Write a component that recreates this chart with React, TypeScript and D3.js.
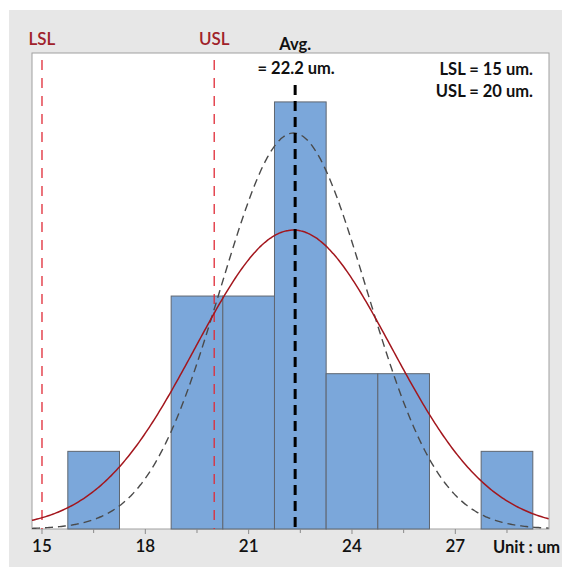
import React, { useEffect, useRef } from 'react';
import * as d3 from 'd3';

// histogram bins (um) and counts
const binEdges = [15.75, 17.25, 18.75, 20.25, 21.75, 23.25, 24.75, 26.25, 27.75, 29.25];
const counts = [1, 0, 3, 3, 5.5, 2, 2, 0, 1];

const majorTicks = [15, 18, 21, 24, 27];
const minorTicks = [16.5, 19.5, 22.5, 25.5, 28.5];

const LSL = 15;
const USL = 20;
const avgLine = 22.35;

// fitted normal curves: [mean, sigma, peak height]
const overallFit = [22.3, 2.85, 3.85];
const withinFit = [22.3, 2.12, 5.1];

const W = 562;
const H = 567;
const plot = { left: 32, right: 549, top: 53, bottom: 529 };

const font = 'Lato, "Open Sans", sans-serif';

const App = () => {
  const svgRef = useRef(null);

  useEffect(() => {
    const svg = d3.select(svgRef.current);
    svg.selectAll('*').remove();

    const x = d3.scaleLinear().domain([14.71, 29.72]).range([plot.left, plot.right]);
    const y = d3.scaleLinear().domain([0, 6.13]).range([plot.bottom, plot.top]);

    // gray outer panel
    svg.append('rect')
      .attr('x', 9).attr('y', 10)
      .attr('width', W - 9).attr('height', H - 10)
      .attr('fill', '#e7e7e7');

    svg.append('rect')
      .attr('x', plot.left).attr('y', plot.top)
      .attr('width', plot.right - plot.left).attr('height', plot.bottom - plot.top)
      .attr('fill', '#fff')
      .attr('stroke', '#a0a0a0');

    const bins = counts.map((c, i) => ({ x0: binEdges[i], x1: binEdges[i + 1], c }));

    svg.selectAll('.bar')
      .data(bins.filter(d => d.c > 0))
      .enter()
      .append('rect')
      .attr('class', 'bar')
      .attr('x', d => x(d.x0))
      .attr('y', d => y(d.c))
      .attr('width', d => x(d.x1) - x(d.x0))
      .attr('height', d => y(0) - y(d.c))
      .attr('fill', '#7ba7da')
      .attr('stroke', '#5f6670')
      .attr('stroke-width', 1);

    // spec limit lines
    [LSL, USL].forEach(v => {
      svg.append('line')
        .attr('x1', x(v)).attr('x2', x(v))
        .attr('y1', 60).attr('y2', plot.bottom)
        .attr('stroke', '#e02a36')
        .attr('stroke-width', 1.3)
        .attr('stroke-dasharray', '10,8');
    });

    const xs = d3.range(14.71, 29.73, 0.05);
    const normal = ([m, s, peak]) => (v) => peak * Math.exp(-((v - m) ** 2) / (2 * s * s));

    const line = d3.line().x(d => x(d[0])).y(d => y(d[1])).curve(d3.curveBasis);

    const within = normal(withinFit);
    svg.append('path')
      .attr('d', line(xs.map(v => [v, within(v)])))
      .attr('fill', 'none')
      .attr('stroke', '#4a4a4a')
      .attr('stroke-width', 1.4)
      .attr('stroke-dasharray', '8,5');

    const overall = normal(overallFit);
    svg.append('path')
      .attr('d', line(xs.map(v => [v, overall(v)])))
      .attr('fill', 'none')
      .attr('stroke', '#a3161d')
      .attr('stroke-width', 1.5);

    // average line
    svg.append('line')
      .attr('x1', x(avgLine)).attr('x2', x(avgLine))
      .attr('y1', 85).attr('y2', plot.bottom)
      .attr('stroke', '#000')
      .attr('stroke-width', 3)
      .attr('stroke-dasharray', '10,6');

    // x axis ticks
    const axis = svg.append('g').attr('stroke', '#8a8a8a');
    axis.selectAll('.maj').data(majorTicks).enter().append('line')
      .attr('x1', d => x(d)).attr('x2', d => x(d))
      .attr('y1', plot.bottom).attr('y2', plot.bottom + 5);
    axis.selectAll('.min').data(minorTicks).enter().append('line')
      .attr('x1', d => x(d)).attr('x2', d => x(d))
      .attr('y1', plot.bottom).attr('y2', plot.bottom + 4);

    svg.selectAll('.tick-label')
      .data(majorTicks)
      .enter()
      .append('text')
      .attr('x', d => x(d))
      .attr('y', 552)
      .attr('text-anchor', 'middle')
      .attr('font-family', font)
      .attr('font-size', 17)
      .attr('font-weight', 600)
      .attr('fill', '#111')
      .text(d => d);

    svg.append('text')
      .attr('x', 493).attr('y', 553)
      .attr('font-family', font).attr('font-size', 16.5).attr('font-weight', 700)
      .attr('fill', '#111')
      .text('Unit : um');

    // labels
    const red = '#a0222a';
    svg.append('text')
      .attr('x', x(LSL)).attr('y', 45)
      .attr('text-anchor', 'middle')
      .attr('font-family', font).attr('font-size', 17).attr('font-weight', 600)
      .attr('fill', red).text('LSL');
    svg.append('text')
      .attr('x', x(USL)).attr('y', 45)
      .attr('text-anchor', 'middle')
      .attr('font-family', font).attr('font-size', 17).attr('font-weight', 600)
      .attr('fill', red).text('USL');

    const bold = (tx, ty, t, anchor) => svg.append('text')
      .attr('x', tx).attr('y', ty)
      .attr('text-anchor', anchor)
      .attr('font-family', font).attr('font-size', 16.5).attr('font-weight', 700)
      .attr('fill', '#111').text(t);

    bold(x(avgLine), 50, 'Avg.', 'middle');
    bold(x(avgLine) + 1, 74, '= 22.2 um.', 'middle');
    bold(533, 75, 'LSL = 15 um.', 'end');
    bold(533, 97, 'USL = 20 um.', 'end');
  }, []);

  return (
    <svg
      ref={svgRef}
      width={W}
      height={H}
      style={{ position: 'absolute', left: 0, top: 0, display: 'block' }}
    />
  );
};

export default App;
